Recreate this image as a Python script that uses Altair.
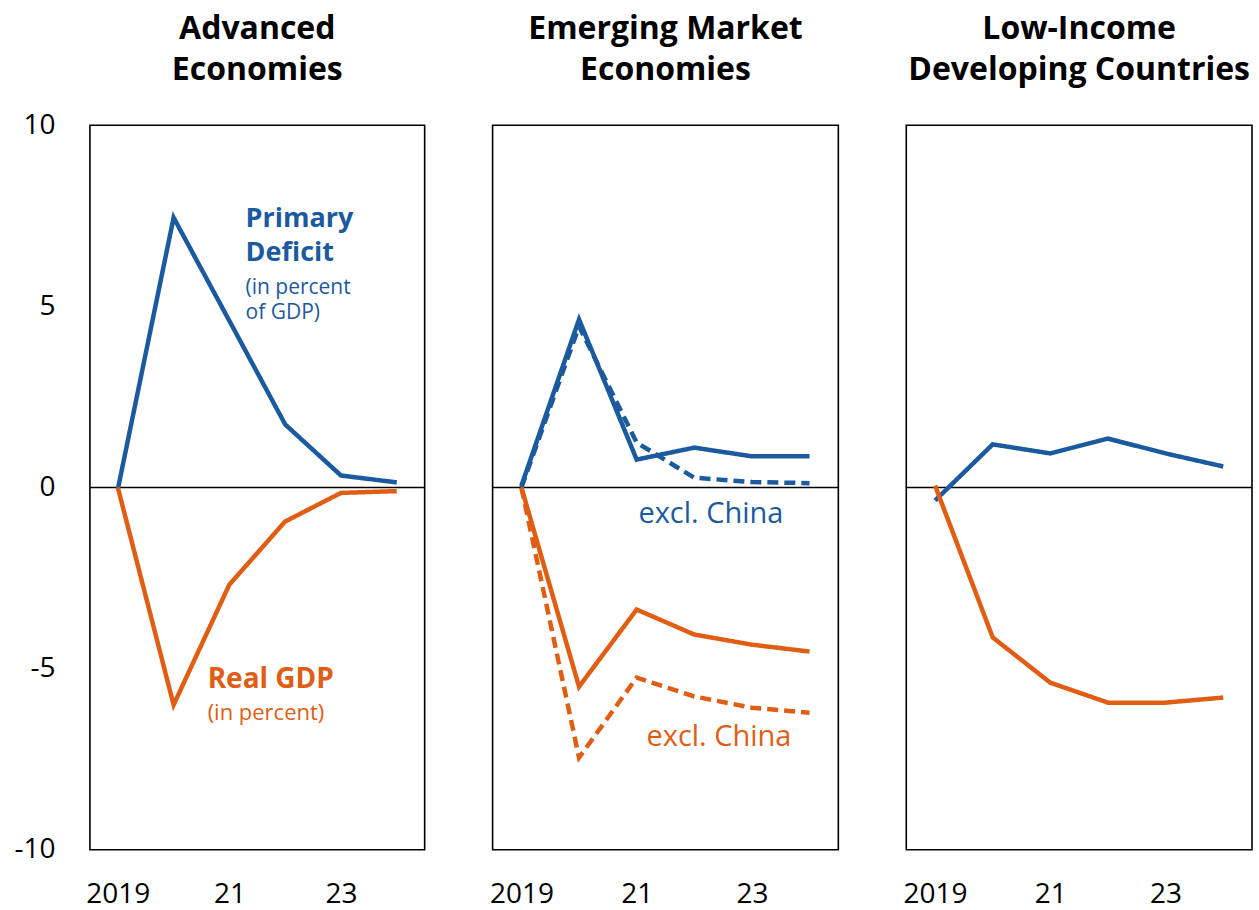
import altair as alt
import pandas as pd

# ---------------- data ----------------
years = [2019, 2020, 2021, 2022, 2023, 2024]

adv_deficit = [-0.05, 7.45, 4.6, 1.74, 0.33, 0.14]
adv_gdp = [0.0, -6.0, -2.68, -0.94, -0.15, -0.1]

em_deficit = [0.05, 4.64, 0.77, 1.1, 0.86, 0.86]
em_deficit_exCN = [0.0, 4.45, 1.24, 0.27, 0.15, 0.12]
em_gdp = [0.0, -5.5, -3.37, -4.06, -4.34, -4.53]
em_gdp_exCN = [0.0, -7.46, -5.25, -5.77, -6.08, -6.22]

lic_deficit = [-0.36, 1.19, 0.94, 1.35, 0.94, 0.58]
lic_gdp = [0.05, -4.14, -5.39, -5.94, -5.94, -5.8]

panel_titles = {
    "adv": ["Advanced", "Economies"],
    "em": ["Emerging Market", "Economies"],
    "lic": ["Low-Income", "Developing Countries"],
}

x_tick_values = [2019, 2021, 2023]
x_tick_labels = ["2019", "21", "23"]
y_tick_values = [-10, -5, 0, 5, 10]

BLUE = "#1b5a9e"
ORANGE = "#e05d14"

series = [
    ("adv", "deficit", "all", adv_deficit),
    ("adv", "gdp", "all", adv_gdp),
    ("em", "deficit", "all", em_deficit),
    ("em", "deficit", "excl", em_deficit_exCN),
    ("em", "gdp", "all", em_gdp),
    ("em", "gdp", "excl", em_gdp_exCN),
    ("lic", "deficit", "all", lic_deficit),
    ("lic", "gdp", "all", lic_gdp),
]
rows = []
for panel, ser, var, vals in series:
    for y, v in zip(years, vals):
        rows.append({"panel": panel, "series": ser, "variant": var,
                     "key": f"{ser}-{var}", "year": y, "value": v})
df = pd.DataFrame(rows)

# annotations: panel, x (year units), y (value units), text, color, bold, size
ann_panel = ["adv", "adv", "adv", "adv", "adv", "adv", "em", "em"]
ann_x = [2021.29, 2021.29, 2021.29, 2021.29, 2020.61, 2020.61, 2021.03, 2021.17]
ann_y = [7.42, 6.46, 5.52, 4.83, -5.32, -6.23, -0.72, -6.9]
ann_text = ["Primary", "Deficit", "(in percent", "of GDP)", "Real GDP",
            "(in percent)", "excl. China", "excl. China"]
ann_color = [BLUE, BLUE, BLUE, BLUE, ORANGE, ORANGE, BLUE, ORANGE]
ann_bold = [True, True, False, False, True, False, False, False]
ann_size = [27, 27, 21, 21, 28, 22, 29, 29]
ann = pd.DataFrame({"panel": ann_panel, "x": ann_x, "y": ann_y, "text": ann_text,
                    "color": ann_color, "bold": ann_bold, "size": ann_size})

zero_df = pd.DataFrame({"y": [0]})

# ---------------- chart ----------------
label_expr = " : ".join(
    [f"datum.value == {v} ? '{l}'" for v, l in zip(x_tick_values, x_tick_labels)]
) + " : ''"

x_scale = alt.Scale(domain=[2018.5, 2024.5], nice=False, zero=False)
y_scale = alt.Scale(domain=[-10, 10], nice=False)

x_axis = alt.Axis(values=x_tick_values, labelExpr=label_expr, ticks=False,
                  domain=False, grid=False, title=None, labelFontSize=28,
                  labelFont="Open Sans", labelColor="black", labelPadding=31,
                  labelFlush=False)


def y_axis(visible):
    return alt.Axis(values=y_tick_values, labelExpr="'' + datum.value", ticks=False,
                    domain=False, grid=False, title=None, labelFontSize=28,
                    labelFont="Open Sans", labelColor="black", labelPadding=35,
                    labelFlush=False, labelOpacity=1 if visible else 0)


key_domain = ["deficit-all", "deficit-excl", "gdp-all", "gdp-excl"]
color_range = [BLUE, BLUE, ORANGE, ORANGE]
dash_range = [[1, 0], [11, 6], [1, 0], [11, 6]]


def make_panel(panel, width, show_y):
    d = df[df.panel == panel]
    a = ann[ann.panel == panel]
    yax = y_axis(show_y)
    rule = alt.Chart(zero_df).mark_rule(color="black", strokeWidth=1.6).encode(
        y=alt.Y("y:Q", scale=y_scale, axis=yax)
    )
    lines = alt.Chart(d).mark_line(strokeWidth=4.5, strokeJoin="miter").encode(
        x=alt.X("year:Q", scale=x_scale, axis=x_axis),
        y=alt.Y("value:Q", scale=y_scale, axis=yax),
        color=alt.Color("key:N", scale=alt.Scale(domain=key_domain, range=color_range), legend=None),
        strokeDash=alt.StrokeDash("key:N", scale=alt.Scale(domain=key_domain, range=dash_range), legend=None),
        detail="key:N",
    )
    layers = [rule, lines]
    for bold in [True, False]:
        sub = a[a.bold == bold]
        if len(sub):
            layers.append(
                alt.Chart(sub).mark_text(align="left", baseline="middle", font="Open Sans",
                                         fontWeight="bold" if bold else "normal").encode(
                    x=alt.X("x:Q", scale=x_scale),
                    y=alt.Y("y:Q", scale=y_scale),
                    text="text:N",
                    color=alt.Color("color:N", scale=None),
                    size=alt.Size("size:Q", scale=None),
                )
            )
    return alt.layer(*layers).properties(
        width=width, height=725,
        view=alt.ViewBackground(stroke="black", strokeWidth=1.6, fill="white"),
        title=alt.TitleParams(panel_titles[panel], fontSize=32, font="Open Sans",
                              fontWeight="bold", color="black", anchor="middle",
                              lineHeight=41, offset=24),
    )


chart = alt.hconcat(
    make_panel("adv", 335, True),
    make_panel("em", 346, False),
    make_panel("lic", 346, False),
    spacing=68,
    bounds="flush",
).properties(
    padding={"left": 13, "top": 12, "right": 5, "bottom": 0},
).configure_view(stroke="black", strokeWidth=1.6).configure(background="white")

chart.save("out.html", embed_options={"renderer": "svg", "actions": False})
